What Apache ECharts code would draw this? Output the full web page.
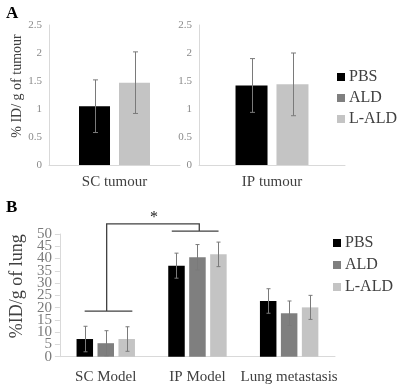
<!DOCTYPE html>
<html>
<head>
<meta charset="utf-8">
<script src="https://cdn.jsdelivr.net/npm/echarts@6/dist/echarts.min.js"></script>
<style>html,body{margin:0;padding:0;background:#fff}#c{width:398px;height:385px}</style>
</head>
<body>
<div id="c"></div>
<script>
// ---- Data ----
var seriesNames = ['PBS', 'ALD', 'L-ALD'];
// Panel A
var aLeftCategory = ['SC tumour'];
var aRightCategory = ['IP tumour'];
var aSC_PBS = [1.05], aSC_PBS_err = [0.47];
var aSC_LALD = [1.47], aSC_LALD_err = [0.55];
var aIP_PBS = [1.42], aIP_PBS_err = [0.48];
var aIP_LALD = [1.44], aIP_LALD_err = [0.56];
var aTicks = {min: 0, max: 2.5, interval: 0.5};
// Panel B
var bCategories = ['SC Model', 'IP Model', 'Lung metastasis'];
var bPBS = [7.2, 37.1, 22.7], bPBS_err = [5.2, 5.1, 5.0];
var bALD = [5.5, 40.5, 17.7], bALD_err = [5.1, 5.2, 5.0];
var bLALD = [7.2, 41.7, 20.1], bLALD_err = [5.0, 5.0, 4.9];
var bTicks = {min: 0, max: 50, interval: 5};
var bTickLabelsEven = [0, 10, 20, 30, 40, 50];
var bTickLabelsOdd = [5, 15, 25, 35, 45];
// significance bracket levels (y values): SC bar line, top line, IP bar line, star
var bracketLevels = [18.6, 54.1, 51.2];
var starLevel = 57.8;

// ---- Styling ----
var FONT = 'Liberation Serif';
var colors = {'PBS': '#000000', 'ALD': '#7f7f7f', 'L-ALD': '#c4c4c4'};
var axisGray = '#d9d9d9';
var errColor = '#7a7a7a';

function errSeries(xi, yi, vals, errs, offset, capHalf) {
  return {
    type: 'custom', xAxisIndex: xi, yAxisIndex: yi, z: 10, silent: true, clip: false,
    data: vals.map(function (v, i) { return [i, v, errs[i]]; }),
    encode: {x: 0, y: 1},
    renderItem: function (params, api) {
      var c = api.value(0), v = api.value(1), e = api.value(2);
      var t = api.coord([c, v + e]), b = api.coord([c, v - e]);
      var x = Math.round(t[0] + offset) + 0.5;
      var st = {stroke: errColor, lineWidth: 1};
      return {type: 'group', children: [
        {type: 'line', shape: {x1: x, y1: t[1], x2: x, y2: b[1]}, style: st},
        {type: 'line', shape: {x1: x - capHalf, y1: t[1], x2: x + capHalf, y2: t[1]}, style: st},
        {type: 'line', shape: {x1: x - capHalf, y1: b[1], x2: x + capHalf, y2: b[1]}, style: st}
      ]};
    }
  };
}

function bar(name, xi, yi, data, width, gap) {
  return {type: 'bar', name: name, xAxisIndex: xi, yAxisIndex: yi, data: data,
    barWidth: width, barGap: gap, itemStyle: {color: colors[name]}, silent: true};
}

var yLabelA = {color: '#8a8a8a', fontFamily: FONT, fontSize: 11, margin: 7, showMinLabel: true, showMaxLabel: true, hideOverlap: false};
var catLabel = {color: '#404040', fontFamily: FONT, fontSize: 15, interval: 0, hideOverlap: false};
var yLabelB = {color: '#7a7a7a', fontFamily: FONT, fontSize: 15, margin: 8, showMinLabel: true, showMaxLabel: true, hideOverlap: false};

var option = {
  animation: false,
  textStyle: {fontFamily: FONT},
  graphic: [
    {type: 'text', left: 6, top: 5, style: {text: 'A', font: 'bold 17px "Liberation Serif"', fill: '#000'}},
    {type: 'text', left: 6, top: 199, style: {text: 'B', font: 'bold 17px "Liberation Serif"', fill: '#000'}}
  ],
  legend: [
    {orient: 'vertical', left: 332, top: 64, itemWidth: 8, itemHeight: 8, itemGap: 5, icon: 'rect',
     data: seriesNames, textStyle: {fontFamily: FONT, fontSize: 16, color: '#404040', padding: [0, 0, 0, -1]}},
    {orient: 'vertical', left: 328, top: 230, itemWidth: 8, itemHeight: 8, itemGap: 6, icon: 'rect',
     data: seriesNames, textStyle: {fontFamily: FONT, fontSize: 16, color: '#404040', padding: [0, 0, 0, -1]}}
  ],
  grid: [
    {left: 49, top: 25, width: 131, height: 140},
    {left: 199, top: 25, width: 146, height: 140},
    {left: 58, top: 234, width: 277, height: 122.7}
  ],
  xAxis: [
    {type: 'category', gridIndex: 0, data: aLeftCategory, axisLine: {lineStyle: {color: axisGray}},
     axisTick: {show: false}, axisLabel: Object.assign({margin: 10}, catLabel)},
    {type: 'category', gridIndex: 1, data: aRightCategory, axisLine: {lineStyle: {color: axisGray}},
     axisTick: {show: false}, axisLabel: Object.assign({margin: 10}, catLabel)},
    {type: 'category', gridIndex: 2, data: bCategories, axisLine: {lineStyle: {color: axisGray}},
     axisTick: {show: false}, axisLabel: Object.assign({margin: 13}, catLabel)}
  ],
  yAxis: [
    {type: 'value', gridIndex: 0, min: aTicks.min, max: aTicks.max, interval: aTicks.interval,
     axisLine: {show: true, lineStyle: {color: axisGray}}, axisTick: {show: false}, splitLine: {show: false},
     axisLabel: yLabelA,
     name: '% ID/ g of tumour', nameLocation: 'middle', nameGap: 25,
     nameTextStyle: {fontFamily: FONT, fontSize: 14, color: '#404040', padding: [0, 0, 0, 18]}},
    {type: 'value', gridIndex: 1, min: aTicks.min, max: aTicks.max, interval: aTicks.interval,
     axisLine: {show: true, lineStyle: {color: axisGray}}, axisTick: {show: false}, splitLine: {show: false},
     axisLabel: yLabelA},
    {type: 'value', gridIndex: 2, min: bTicks.min, max: bTicks.max, interval: bTicks.interval,
     axisLine: {show: true, lineStyle: {color: axisGray}}, axisTick: {show: true, length: 5, lineStyle: {color: axisGray}},
     splitLine: {show: false},
     axisLabel: Object.assign({customValues: bTickLabelsEven}, yLabelB),
     name: '%ID/g of lung', nameLocation: 'middle', nameGap: 32,
     nameTextStyle: {fontFamily: FONT, fontSize: 18, color: '#404040', padding: [0, 0, 0, 18]}},
    {type: 'value', gridIndex: 2, min: bTicks.min, max: bTicks.max, interval: bTicks.interval, position: 'left',
     axisLine: {show: false}, axisTick: {show: false}, splitLine: {show: false},
     axisLabel: Object.assign({customValues: bTickLabelsOdd}, yLabelB)}
  ],
  series: [
    bar('PBS', 0, 0, aSC_PBS, 31, '29%'),
    bar('L-ALD', 0, 0, aSC_LALD, 31, '29%'),
    bar('PBS', 1, 1, aIP_PBS, 32, '28%'),
    bar('L-ALD', 1, 1, aIP_LALD, 32, '28%'),
    bar('PBS', 2, 2, bPBS, 16.5, '27%'),
    bar('ALD', 2, 2, bALD, 16.5, '27%'),
    bar('L-ALD', 2, 2, bLALD, 16.5, '27%'),
    errSeries(0, 0, aSC_PBS, aSC_PBS_err, -20, 2.5),
    errSeries(0, 0, aSC_LALD, aSC_LALD_err, 20, 2.5),
    errSeries(1, 1, aIP_PBS, aIP_PBS_err, -20.5, 2.5),
    errSeries(1, 1, aIP_LALD, aIP_LALD_err, 20.5, 2.5),
    errSeries(2, 2, bPBS, bPBS_err, -21, 2),
    errSeries(2, 2, bALD, bALD_err, 0, 2),
    errSeries(2, 2, bLALD, bLALD_err, 21, 2),
    {
      type: 'custom', xAxisIndex: 2, yAxisIndex: 2, z: 12, silent: true, clip: false,
      data: [[0, bracketLevels[0]]], encode: {x: 0, y: 1},
      renderItem: function (params, api) {
        var band = api.size([1, 0])[0];
        var sc = api.coord([0, bracketLevels[0]]);
        var top = api.coord([0, bracketLevels[1]])[1];
        var ip = api.coord([1, bracketLevels[2]]);
        var star = api.coord([0, starLevel])[1];
        var scX = sc[0] + 0.01 * band, ipX = ip[0] + 0.02 * band;
        var st = {stroke: '#404040', lineWidth: 1.3, fill: null};
        return {type: 'group', children: [
          {type: 'line', shape: {x1: sc[0] - 0.23 * band, y1: sc[1], x2: sc[0] + 0.29 * band, y2: sc[1]}, style: st},
          {type: 'polyline', shape: {points: [[scX, sc[1]], [scX, top], [ipX, top], [ipX, ip[1]]]}, style: st},
          {type: 'line', shape: {x1: ip[0] - 0.28 * band, y1: ip[1], x2: ip[0] + 0.23 * band, y2: ip[1]}, style: st},
          {type: 'text', x: (scX + ipX) / 2 + 1, y: star + 3, style: {text: '*', fill: '#222', font: '16px "Liberation Serif"', align: 'center', verticalAlign: 'middle'}}
        ]};
      }
    }
  ]
};
var chart = echarts.init(document.getElementById('c'), null, {renderer: 'canvas'});
chart.setOption(option);
</script>
</body>
</html>
